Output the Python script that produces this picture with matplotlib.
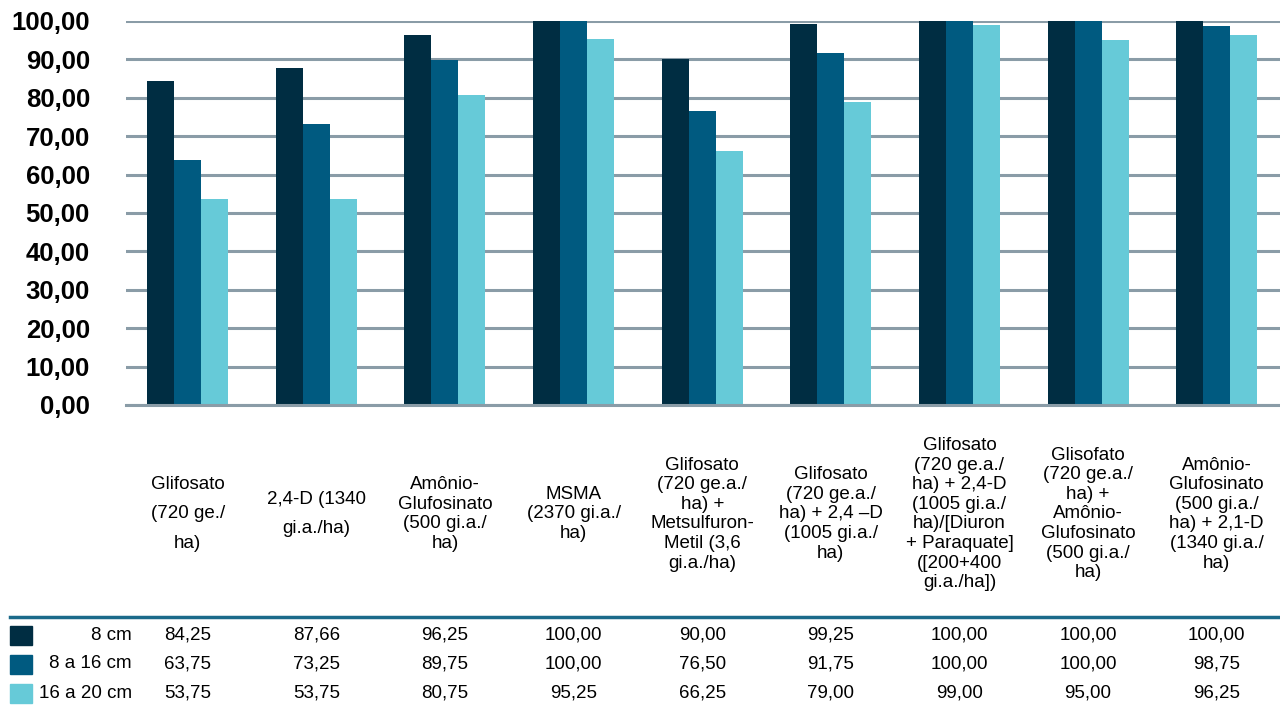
import numpy as np
import matplotlib
matplotlib.use("Agg")
import matplotlib.pyplot as plt
from matplotlib.patches import Rectangle
from matplotlib.transforms import blended_transform_factory

plt.rcParams['font.family'] = ['Liberation Sans', 'DejaVu Sans']

# Data
categories = [
    "Glifosato\n(720 ge./\nha)",
    "2,4-D (1340\ngi.a./ha)",
    "Amônio-\nGlufosinato\n(500 gi.a./\nha)",
    "MSMA\n(2370 gi.a./\nha)",
    "Glifosato\n(720 ge.a./\nha) +\nMetsulfuron-\nMetil (3,6\ngi.a./ha)",
    "Glifosato\n(720 ge.a./\nha) + 2,4 \u2013D\n(1005 gi.a./\nha)",
    "Glifosato\n(720 ge.a./\nha) + 2,4-D\n(1005 gi.a./\nha)/[Diuron\n+ Paraquate]\n([200+400\ngi.a./ha])",
    "Glisofato\n(720 ge.a./\nha) +\nAmônio-\nGlufosinato\n(500 gi.a./\nha)",
    "Amônio-\nGlufosinato\n(500 gi.a./\nha) + 2,1-D\n(1340 gi.a./\nha)",
]
series_names = ["8 cm", "8 a 16 cm", "16 a 20 cm"]
s_8 = [84.25, 87.66, 96.25, 100.00, 90.00, 99.25, 100.00, 100.00, 100.00]
s_8_16 = [63.75, 73.25, 89.75, 100.00, 76.50, 91.75, 100.00, 100.00, 98.75]
s_16_20 = [53.75, 53.75, 80.75, 95.25, 66.25, 79.00, 99.00, 95.00, 96.25]
colors = ["#002d42", "#005a80", "#66cad8"]

W, H = 1280, 709
fig = plt.figure(figsize=(W / 100, H / 100), dpi=100)
ax = fig.add_axes([126 / W, 1 - 405 / H, 1155 / W, 384 / H])

x = np.arange(len(categories))
bw = 0.21
for i, (vals, c) in enumerate(zip([s_8, s_8_16, s_16_20], colors)):
    ax.bar(x + (i - 1) * bw, vals, width=bw, color=c, zorder=3)

ax.set_xlim(-0.48, len(categories) - 0.5)
ax.set_ylim(0, 100)
ax.set_yticks(np.arange(0, 101, 10))
ax.set_yticklabels([f"{v:.2f}".replace(".", ",") for v in np.arange(0, 101, 10)],
                   fontsize=18.5, fontweight='bold')
ax.tick_params(axis='y', length=0, pad=26)
ax.set_xticks([])
ax.yaxis.grid(True, color="#8a9ca7", linewidth=2.2, zorder=0)
for s in ['top', 'right', 'left']:
    ax.spines[s].set_visible(False)
ax.spines['bottom'].set_color("#8a9ca7")
ax.spines['bottom'].set_linewidth(2.2)
ax.spines['bottom'].set_zorder(4)

# category labels
trans = blended_transform_factory(ax.transData, fig.transFigure)
for i, lab in enumerate(categories):
    ls = 1.95 if i < 2 else 1.2
    ax.text(i, 1 - 514 / H, lab, transform=trans, ha='center', va='center',
            fontsize=13.5, linespacing=ls, multialignment='center')

# table separator
fig.add_artist(plt.Line2D([10 / W, 1], [1 - 617 / H, 1 - 617 / H],
                          color="#1b6a8a", linewidth=2.5))

# data table
row_y = [635, 664, 693]
for r, (name, vals, c) in enumerate(zip(series_names, [s_8, s_8_16, s_16_20], colors)):
    yy = 1 - row_y[r] / H
    fig.add_artist(Rectangle((10 / W, yy - 9.5 / H), 22 / W, 19 / H,
                             color=c, transform=fig.transFigure))
    fig.text(132 / W, yy, name, ha='right', va='center', fontsize=13.5)
    for i, v in enumerate(vals):
        ax.text(i, yy, f"{v:.2f}".replace(".", ","), transform=trans,
                ha='center', va='center', fontsize=13.5)

fig.savefig("out.png", dpi=100)
